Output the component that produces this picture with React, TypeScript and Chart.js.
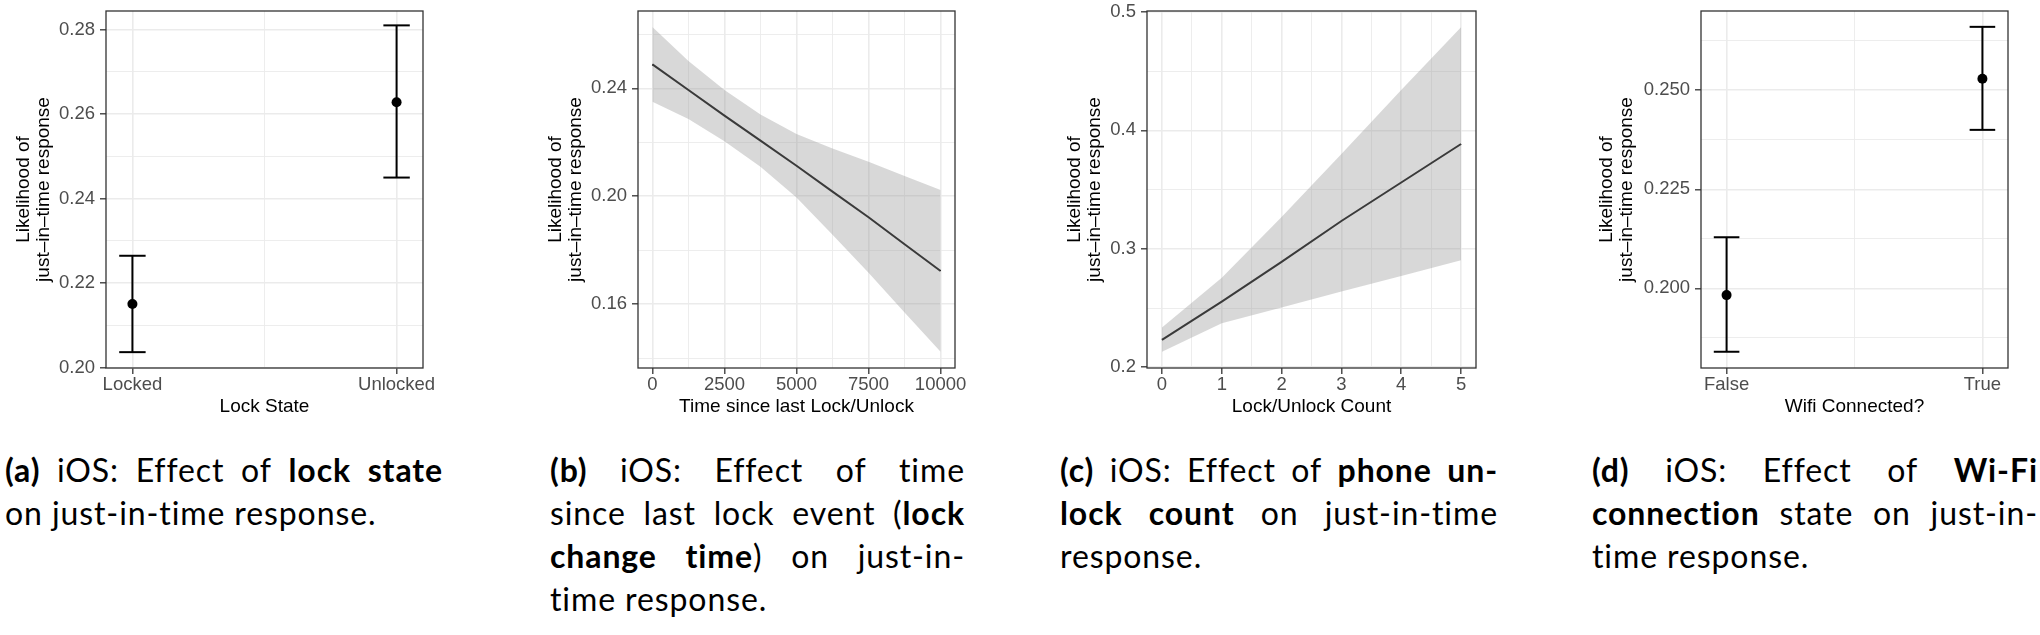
import React, { useEffect, useRef } from 'react';
import { Chart, registerables } from 'chart.js';

Chart.register(...registerables);

// ---------------- data ----------------
// (a) lock state
const lockStates = ['Locked', 'Unlocked'];
const lockFit = [0.2151, 0.2628];
const lockLower = [0.2037, 0.245];
const lockUpper = [0.2265, 0.281];
const lockYTicks = [0.2, 0.22, 0.24, 0.26, 0.28];
const lockYLabels = ['0.20', '0.22', '0.24', '0.26', '0.28'];
const lockYMinor = [0.21, 0.23, 0.25, 0.27];

// (b) time since last lock/unlock
const timeSince = [0, 1250, 2500, 3750, 5000, 6250, 7500, 8750, 10000];
const timeFit = [0.2489, 0.2394, 0.2299, 0.2206, 0.2113, 0.2017, 0.1922, 0.1822, 0.1723];
const timeUpper = [0.2628, 0.2502, 0.2394, 0.2303, 0.2231, 0.2177, 0.2128, 0.2075, 0.2023];
const timeLower = [0.235, 0.2286, 0.2204, 0.2109, 0.1995, 0.1857, 0.1716, 0.1569, 0.1423];
const timeXTicks = [0, 2500, 5000, 7500, 10000];
const timeXLabels = ['0', '2500', '5000', '7500', '10000'];
const timeXMinor = [1250, 3750, 6250, 8750];
const timeYTicks = [0.16, 0.2, 0.24];
const timeYLabels = ['0.16', '0.20', '0.24'];
const timeYMinor = [0.14, 0.18, 0.22, 0.26];

// (c) lock/unlock count
const unlockCount = [0, 1, 2, 3, 4, 5];
const countFit = [0.2232, 0.2555, 0.289, 0.3235, 0.356, 0.3885];
const countUpper = [0.2336, 0.2756, 0.3269, 0.38, 0.434, 0.4871];
const countLower = [0.2131, 0.2372, 0.2505, 0.2639, 0.2771, 0.2904];
const countXTicks = [0, 1, 2, 3, 4, 5];
const countXLabels = ['0', '1', '2', '3', '4', '5'];
const countXMinor = [0.5, 1.5, 2.5, 3.5, 4.5];
const countYTicks = [0.2, 0.3, 0.4, 0.5];
const countYLabels = ['0.2', '0.3', '0.4', '0.5'];
const countYMinor = [0.25, 0.35, 0.45];

// (d) wifi connected
const wifiStates = ['False', 'True'];
const wifiFit = [0.1983, 0.2529];
const wifiLower = [0.184, 0.24];
const wifiUpper = [0.2129, 0.266];
const wifiYTicks = [0.2, 0.225, 0.25];
const wifiYLabels = ['0.200', '0.225', '0.250'];
const wifiYMinor = [0.1875, 0.2125, 0.2375, 0.2625];

const yTitle = ['Likelihood of', 'just\u2013in\u2013time response'];

// ---------------- helpers ----------------
const FONT = "'Liberation Sans', Arial, Helvetica, sans-serif";
const BAND = 'rgba(153,153,153,0.38)';
const CAP = 0.05;
const CANVAS_H = 430;
const X_AXIS_H = 62;

type AxisSpec = {
  min: number;
  max: number;
  major: number[];
  labels: string[];
  minor: number[];
  title: string | string[];
};

const isIn = (list: number[], v: any) =>
  typeof v === 'number' && list.some((m) => Math.abs(m - v) < 1e-9);

function buildScale(axis: 'x' | 'y', spec: AxisSpec, size: number) {
  return {
    type: 'linear',
    position: axis === 'x' ? 'bottom' : 'left',
    min: spec.min,
    max: spec.max,
    afterBuildTicks: (scale: any) => {
      scale.ticks = [...spec.major, ...spec.minor]
        .sort((a, b) => a - b)
        .map((v) => ({ value: v }));
    },
    afterFit: (scale: any) => {
      if (axis === 'x') {
        scale.height = size;
        scale.paddingLeft = 0;
        scale.paddingRight = 0;
      } else {
        scale.width = size;
        scale.paddingTop = 0;
        scale.paddingBottom = 0;
      }
    },
    ticks: {
      autoSkip: false,
      maxRotation: 0,
      minRotation: 0,
      padding: axis === 'x' ? 0 : 5,
      color: '#4D4D4D',
      font: { family: FONT, size: 18.5 },
      callback: (value: number) => {
        const i = spec.major.findIndex((m) => Math.abs(m - value) < 1e-9);
        return i >= 0 ? spec.labels[i] : '';
      },
    },
    grid: {
      color: '#EBEBEB',
      lineWidth: (ctx: any) => (isIn(spec.major, ctx.tick?.value) ? 1.6 : 0.9),
      tickColor: (ctx: any) => (isIn(spec.major, ctx.tick?.value) ? '#333333' : 'rgba(0,0,0,0)'),
      tickLength: 6,
      tickWidth: 1.3,
      drawTicks: true,
    },
    border: { display: false },
    title: {
      display: true,
      text: spec.title,
      color: '#000000',
      font: { family: FONT, size: 19, lineHeight: axis === 'y' ? '20px' : 1.2 },
      padding: axis === 'y' ? { top: 14, bottom: 0 } : { top: 0, bottom: 11.6 },
    },
  };
}

function segment(points: { x: number; y: number }[]) {
  return {
    data: points,
    borderColor: '#000000',
    borderWidth: 2,
    pointRadius: 0,
    fill: false,
    tension: 0,
  };
}

function errorBarDatasets(fit: number[], lower: number[], upper: number[]) {
  const ds: any[] = [];
  fit.forEach((_, i) => {
    const x = i + 1;
    ds.push(segment([{ x, y: lower[i] }, { x, y: upper[i] }]));
    ds.push(segment([{ x: x - CAP, y: upper[i] }, { x: x + CAP, y: upper[i] }]));
    ds.push(segment([{ x: x - CAP, y: lower[i] }, { x: x + CAP, y: lower[i] }]));
  });
  ds.push({
    data: fit.map((y, i) => ({ x: i + 1, y })),
    showLine: false,
    pointRadius: 5,
    pointBackgroundColor: '#000000',
    pointBorderColor: '#000000',
    pointBorderWidth: 0,
  });
  return ds;
}

function bandDatasets(xs: number[], fit: number[], lower: number[], upper: number[]) {
  return [
    {
      data: xs.map((x, i) => ({ x, y: upper[i] })),
      borderWidth: 0,
      borderColor: 'rgba(0,0,0,0)',
      pointRadius: 0,
      fill: '+1',
      backgroundColor: BAND,
      tension: 0,
    },
    {
      data: xs.map((x, i) => ({ x, y: lower[i] })),
      borderWidth: 0,
      borderColor: 'rgba(0,0,0,0)',
      pointRadius: 0,
      fill: false,
      tension: 0,
    },
    segment(xs.map((x, i) => ({ x, y: fit[i] }))),
  ];
}

const borderPlugin = {
  id: 'panelBorder',
  afterDatasetsDraw(chart: any) {
    const { ctx, chartArea } = chart;
    const { left, top, right, bottom } = chartArea;
    ctx.save();
    ctx.strokeStyle = '#333333';
    ctx.lineWidth = 1.3;
    ctx.strokeRect(left, top, right - left, bottom - top);
    ctx.restore();
  },
};

type PanelSpec = {
  left: number;
  width: number;
  yWidth: number;
  padRight: number;
  x: AxisSpec;
  y: AxisSpec;
  datasets: any[];
};

const panels: PanelSpec[] = [
  {
    left: 0,
    width: 443,
    yWidth: 106,
    padRight: 20,
    x: { min: 0.9, max: 2.1, major: [1, 2], labels: lockStates, minor: [1.5], title: 'Lock State' },
    y: { min: 0.19995, max: 0.2844, major: lockYTicks, labels: lockYLabels, minor: lockYMinor, title: yTitle },
    datasets: errorBarDatasets(lockFit, lockLower, lockUpper),
  },
  {
    left: 532,
    width: 453,
    yWidth: 106,
    padRight: 30,
    x: { min: -500, max: 10500, major: timeXTicks, labels: timeXLabels, minor: timeXMinor, title: 'Time since last Lock/Unlock' },
    y: { min: 0.1363, max: 0.2687, major: timeYTicks, labels: timeYLabels, minor: timeYMinor, title: yTitle },
    datasets: bandDatasets(timeSince, timeFit, timeLower, timeUpper),
  },
  {
    left: 1051,
    width: 440,
    yWidth: 96,
    padRight: 15,
    x: { min: -0.25, max: 5.25, major: countXTicks, labels: countXLabels, minor: countXMinor, title: 'Lock/Unlock Count' },
    y: { min: 0.1994, max: 0.5008, major: countYTicks, labels: countYLabels, minor: countYMinor, title: yTitle },
    datasets: bandDatasets(unlockCount, countFit, countLower, countUpper),
  },
  {
    left: 1583,
    width: 447,
    yWidth: 118,
    padRight: 22,
    x: { min: 0.9, max: 2.1, major: [1, 2], labels: wifiStates, minor: [1.5], title: 'Wifi Connected?' },
    y: { min: 0.1799, max: 0.27, major: wifiYTicks, labels: wifiYLabels, minor: wifiYMinor, title: yTitle },
    datasets: errorBarDatasets(wifiFit, wifiLower, wifiUpper),
  },
];

function Panel({ spec }: { spec: PanelSpec }) {
  const ref = useRef<HTMLCanvasElement>(null);
  useEffect(() => {
    const chart = new Chart(ref.current as HTMLCanvasElement, {
      type: 'line',
      data: { datasets: spec.datasets },
      options: {
        responsive: false,
        maintainAspectRatio: false,
        animation: false,
        events: [],
        devicePixelRatio: 1,
        layout: { padding: { top: 11, right: spec.padRight, bottom: 0, left: 0 } },
        plugins: { legend: { display: false }, tooltip: { enabled: false } },
        scales: {
          x: buildScale('x', spec.x, X_AXIS_H),
          y: buildScale('y', spec.y, spec.yWidth),
        },
      } as any,
      plugins: [borderPlugin],
    });
    return () => chart.destroy();
  }, [spec]);
  return (
    <canvas
      ref={ref}
      width={spec.width}
      height={CANVAS_H}
      style={{ position: 'absolute', left: spec.left, top: 0, width: spec.width, height: CANVAS_H }}
    />
  );
}

// ---------------- captions ----------------
const captions = [
  { left: 5, width: 438, lines: ['**(a)** iOS: Effect of **lock state**', 'on just-in-time response.'] },
  {
    left: 550,
    width: 415,
    lines: ['**(b)** iOS: Effect of time', 'since last lock event (**lock**', '**change time**) on just-in-', 'time response.'],
  },
  {
    left: 1060,
    width: 438,
    lines: ['**(c)** iOS: Effect of **phone un-**', '**lock count** on just-in-time', 'response.'],
  },
  {
    left: 1592,
    width: 446,
    lines: ['**(d)** iOS: Effect of **Wi-Fi**', '**connection** state on just-in-', 'time response.'],
  },
];

type Seg = { t: string; b: boolean };

function parseWords(s: string): Seg[][] {
  const words: Seg[][] = [];
  let cur: Seg[] = [];
  s.split('**').forEach((seg, si) => {
    const b = si % 2 === 1;
    seg.split(' ').forEach((p, pi) => {
      if (pi > 0) {
        if (cur.length) words.push(cur);
        cur = [];
      }
      if (p) cur.push({ t: p, b });
    });
  });
  if (cur.length) words.push(cur);
  return words;
}

const CAP_FONT = "Lato, 'Noto Sans', sans-serif";
const CAP_SIZE = 32;
const CAP_LH = 43;

function Word({ w }: { w: Seg[] }) {
  return (
    <span>
      {w.map((s, i) => (
        <span key={i} style={{ fontWeight: s.b ? 700 : 400 }}>
          {s.t}
        </span>
      ))}
    </span>
  );
}

function Caption({ c }: { c: (typeof captions)[number] }) {
  return (
    <div
      style={{
        position: 'absolute',
        left: c.left,
        top: 448,
        width: c.width,
        fontFamily: CAP_FONT,
        fontSize: CAP_SIZE,
        letterSpacing: '0.9px',
        fontVariantLigatures: 'none',
        color: '#000',
      }}
    >
      {c.lines.map((line, li) => {
        const words = parseWords(line);
        const last = li === c.lines.length - 1;
        if (last) {
          return (
            <div key={li} style={{ height: CAP_LH, lineHeight: `${CAP_LH}px`, whiteSpace: 'nowrap' }}>
              {words.map((w, i) => (
                <React.Fragment key={i}>
                  {i > 0 ? ' ' : ''}
                  <Word w={w} />
                </React.Fragment>
              ))}
            </div>
          );
        }
        return (
          <div
            key={li}
            style={{
              display: 'flex',
              justifyContent: 'space-between',
              height: CAP_LH,
              lineHeight: `${CAP_LH}px`,
              whiteSpace: 'nowrap',
            }}
          >
            {words.map((w, i) => (
              <Word key={i} w={w} />
            ))}
          </div>
        );
      })}
    </div>
  );
}

export default function App() {
  return (
    <div style={{ position: 'absolute', left: 0, top: 0, width: 2040, height: 635, background: '#ffffff', overflow: 'hidden' }}>
      {panels.map((p, i) => (
        <Panel key={i} spec={p} />
      ))}
      {captions.map((c, i) => (
        <Caption key={i} c={c} />
      ))}
    </div>
  );
}
